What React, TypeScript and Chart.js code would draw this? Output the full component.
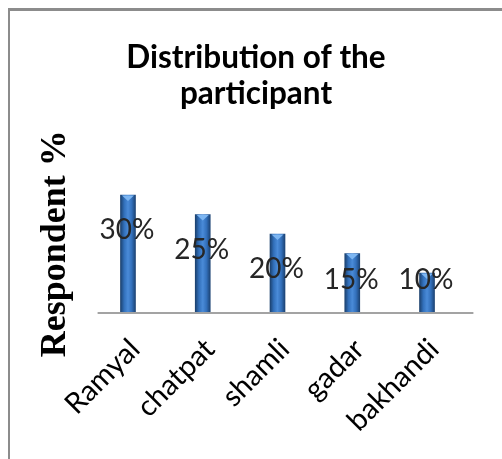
import { useEffect, useRef } from "react";
import { Chart, registerables } from "chart.js";

Chart.register(...registerables);

const villages = ["Ramyal", "chatpat", "shamli", "gadar", "bakhandi"];
const respondentPct = [30, 25, 20, 15, 10];
const titleLines = ["Distribution of the", "participant"];
const yAxisTitle = "Respondent %";
const yMax = 35;

// Cylinder shading across the width of a bar
function barGradient(c: any) {
  const chart = c.chart;
  const xs = chart.scales?.x;
  if (!xs || c.dataIndex === undefined) return "#3a76c2";
  const cx = xs.getPixelForValue(c.dataIndex);
  if (!Number.isFinite(cx)) return "#3a76c2";
  const half = 7.5;
  const g = chart.ctx.createLinearGradient(cx - half, 0, cx + half, 0);
  g.addColorStop(0, "#1b416f");
  g.addColorStop(0.25, "#3270bb");
  g.addColorStop(0.5, "#4a8bd8");
  g.addColorStop(0.75, "#3370bb");
  g.addColorStop(1, "#1c4374");
  return g;
}

const decorPlugin = {
  id: "cylinderDecor",
  beforeDatasetsDraw(chart: any) {
    const { ctx, chartArea } = chart;
    const y = chart.scales.y.getPixelForValue(0);
    ctx.save();
    ctx.strokeStyle = "#a3a3a3";
    ctx.lineWidth = 2;
    ctx.beginPath();
    ctx.moveTo(chartArea.left + 7, y + 1);
    ctx.lineTo(chartArea.right + 9, y + 1);
    ctx.stroke();
    ctx.restore();
  },
  afterDatasetsDraw(chart: any) {
    const { ctx } = chart;
    const base = chart.scales.y.getPixelForValue(0);
    const meta = chart.getDatasetMeta(0);
    meta.data.forEach((bar: any, i: number) => {
      const { x, y, width } = bar.getProps(["x", "y", "width"], true);
      // light cap on top of the cylinder
      ctx.save();
      ctx.fillStyle = "#7db6f2";
      ctx.beginPath();
      ctx.moveTo(x - width / 2 + 1.5, y + 0.5);
      ctx.lineTo(x + width / 2 - 1.5, y + 0.5);
      ctx.lineTo(x, y + 6);
      ctx.closePath();
      ctx.fill();
      ctx.restore();

      // value label
      const cy = Math.min(y + 35, base - 32.5);
      ctx.save();
      ctx.font = "28px Lato";
      ctx.fillStyle = "#262626";
      ctx.textAlign = "center";
      ctx.textBaseline = "middle";
      ctx.fillText(respondentPct[i] + "%", x - 1, cy);
      ctx.restore();
    });
  },
};

export default function App() {
  const ref = useRef<HTMLCanvasElement | null>(null);

  useEffect(() => {
    if (!ref.current) return;
    const chart = new Chart(ref.current, {
      type: "bar",
      data: {
        labels: villages,
        datasets: [
          {
            data: respondentPct,
            backgroundColor: barGradient,
            barThickness: 15,
            borderWidth: 0,
          },
        ],
      },
      options: {
        responsive: false,
        animation: false,
        layout: { padding: 0 },
        plugins: {
          legend: { display: false },
          tooltip: { enabled: false },
          title: {
            display: true,
            text: titleLines,
            color: "#000000",
            font: { family: "Lato", size: 31.5, weight: "bold", lineHeight: 36 / 31.5 },
            padding: { top: 29, bottom: 63.5 },
          },
        },
        scales: {
          x: {
            grid: { display: false },
            border: { display: false },
            ticks: {
              color: "#000000",
              font: { family: "Lato", size: 29 },
              minRotation: 45,
              maxRotation: 45,
              padding: 12,
              labelOffset: 7,
            },
            afterFit: (s: any) => {
              s.height = 147;
            },
          },
          y: {
            min: 0,
            max: yMax,
            grid: { display: false },
            border: { display: false },
            ticks: { display: false },
            title: {
              display: true,
              text: yAxisTitle,
              color: "#000000",
              font: { family: "Liberation Serif", size: 36, weight: "bold" },
              padding: { top: 24, bottom: 0 },
            },
            afterFit: (s: any) => {
              s.width = 80.6;
            },
          },
          // empty right-hand margin of the plot
          yRight: {
            type: "linear",
            position: "right",
            grid: { display: false },
            border: { display: false },
            ticks: { display: false },
            afterFit: (s: any) => {
              s.width = 37.6;
            },
          },
        },
      },
      plugins: [decorPlugin],
    });
    // redraw once so the gradients are resolved against the laid-out scales
    chart.update();
    return () => chart.destroy();
  }, []);

  return (
    <div
      style={{
        position: "absolute",
        left: 8,
        top: 8,
        width: 494,
        height: 451,
        borderTop: "3px solid #8c8c8c",
        borderLeft: "2px solid #8c8c8c",
        boxSizing: "border-box",
        overflow: "hidden",
        background: "#ffffff",
      }}
    >
      <canvas ref={ref} width={492} height={448} style={{ display: "block" }} />
    </div>
  );
}
